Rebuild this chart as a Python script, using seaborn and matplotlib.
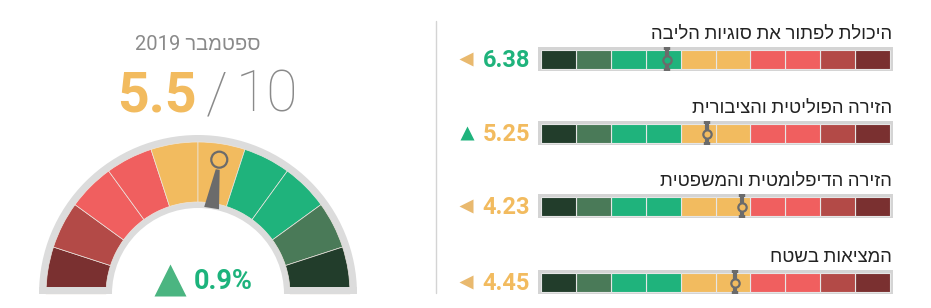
import numpy as np
import matplotlib
matplotlib.use("Agg")
import matplotlib.pyplot as plt
import seaborn as sns
from matplotlib.patches import Wedge, Polygon, Circle, Rectangle

# ---------------- data ----------------
segment_colors = ['#7a3030', '#b34a47', '#f05f5f', '#f05f5f', '#f2bb5f',
                  '#f2bb5f', '#1fb37c', '#1fb37c', '#4a7a58', '#223d2b']
scale_max = 10
gauge_value = 5.5
gauge_change = "0.9%"
gauge_trend = "up"
period_label = "ספטמבר 2019"
row_titles = ["היכולת לפתור את סוגיות הליבה",
              "הזירה הפוליטית והציבורית",
              "הזירה הדיפלומטית והמשפטית",
              "המציאות בשטח"]
row_values = [6.38, 5.25, 4.23, 4.45]
row_trends = ["flat", "up", "flat", "flat"]

# ---------------- setup ----------------
sns.set_theme(style="white")
plt.rcParams["font.family"] = ["Roboto", "Liberation Sans", "DejaVu Sans"]

W, H = 931, 308
fig = plt.figure(figsize=(W / 100, H / 100), dpi=100)
fig.patch.set_facecolor("white")


def visual(s):
    """simple bidi: reverse word order, reverse letters of Hebrew words"""
    words = s.split(" ")
    out = []
    for w in reversed(words):
        if any('\u0590' <= ch <= '\u05ff' for ch in w):
            out.append(w[::-1])
        else:
            out.append(w)
    return " ".join(out)


def rect(x0, y0, x1, y1):
    return [x0 / W, 1 - y1 / H, (x1 - x0) / W, (y1 - y0) / H]


def ftext(x, y, s, **kw):
    fig.text(x / W, 1 - y / H, s, **kw)


def seg_color(v):
    return segment_colors[min(int(v), scale_max - 1)]


GREY_NEEDLE = "#6b6b6b"

# overlay axes in pixel coordinates for decorations
ov = fig.add_axes([0, 0, 1, 1])
ov.set_xlim(0, W)
ov.set_ylim(H, 0)
ov.axis("off")
ov.patch.set_alpha(0)
ov.plot([436, 436], [21, 293], color="#d4d4d4", lw=1)

# ---------------- gauge ----------------
ga = fig.add_axes(rect(28, 130, 368, 300))
ga.set_xlim(-170, 170)
ga.set_ylim(-6, 164)
ga.set_aspect("equal")
ga.axis("off")
R_OUT, R_IN = 159, 86
C_OUT, C_IN = 152, 92
ga.add_patch(Wedge((0, 0), R_OUT, 0, 180, width=R_OUT - R_IN, fc="#dcdcdc", ec="none"))
step = 180 / scale_max
for i, c in enumerate(segment_colors):
    ga.add_patch(Wedge((0, 0), C_OUT, 180 - step * (i + 1), 180 - step * i,
                       width=C_OUT - C_IN, fc=c, ec="#ece6e0", lw=0.5))
ga.add_patch(Rectangle((-R_OUT, 0), R_OUT - R_IN, 7, fc="#dcdcdc", ec="none"))
ga.add_patch(Rectangle((R_IN, 0), R_OUT - R_IN, 7, fc="#dcdcdc", ec="none"))

th = np.deg2rad(180 - gauge_value / scale_max * 180)
u = np.array([np.cos(th), np.sin(th)])
n = np.array([-np.sin(th), np.cos(th)])
r0, r1, rc = 87, 126, 136
needle = [r0 * u + 7.5 * n, r1 * u + 2 * n, r1 * u - 2 * n, r0 * u - 7.5 * n]
ga.add_patch(Polygon(needle, closed=True, fc=GREY_NEEDLE, ec="none"))
ga.add_patch(Circle(rc * u, 8, fc=seg_color(gauge_value), ec=GREY_NEEDLE, lw=1.6))

# gauge texts
ftext(198, 50, visual(period_label), ha="center", va="baseline",
      fontsize=14.5, color="#8a8a8a")
ftext(197, 112, f"{gauge_value}", ha="right", va="baseline", fontsize=40,
      fontweight="bold", color=seg_color(gauge_value))
ftext(206, 112, "/", ha="left", va="baseline", fontsize=41,
      fontweight="light", color="#8a8a8a")
ftext(298, 112, f"{scale_max}", ha="right", va="baseline", fontsize=41,
      fontweight="light", color="#8a8a8a")
ftext(194, 289, gauge_change, ha="left", va="baseline", fontsize=19.5,
      fontweight="bold", color="#1db37c")
ov.plot([170], [279.5], marker="^" if gauge_trend == "up" else "<",
        markersize=23, color="#4bb581", mec="none")

# ---------------- rows ----------------
row_tops = [47, 121, 194, 270]
BAR_X0, BAR_X1 = 538, 893
pad_px = 3
unit = scale_max / (BAR_X1 - BAR_X0 - 2 * pad_px)
for k, (title, val, trend) in enumerate(zip(row_titles, row_values, row_trends)):
    top = row_tops[k]
    ax = fig.add_axes(rect(BAR_X0, top, BAR_X1, top + 24))
    ax.set_facecolor("#d4d4d4")
    ax.set_xlim(scale_max + pad_px * unit, -pad_px * unit)
    ax.set_ylim(0, 1)
    for i, c in enumerate(segment_colors):
        ax.barh(0.47, 1, left=i, height=0.8, color=c, edgecolor="#e6e6e6",
                linewidth=0.8)
    ax.plot([val, val], [0, 1], color=GREY_NEEDLE, lw=3.0, solid_capstyle="butt")
    ax.plot([val, val], [0, 0.12], color=GREY_NEEDLE, lw=4.6, solid_capstyle="butt")
    ax.plot([val, val], [0.88, 1], color=GREY_NEEDLE, lw=4.6, solid_capstyle="butt")
    sns.scatterplot(x=[val], y=[0.47], ax=ax, s=36, color=seg_color(val),
                    edgecolor=GREY_NEEDLE, linewidth=1.6, zorder=5, legend=False)
    ax.set_xticks([])
    ax.set_yticks([])
    for sp in ax.spines.values():
        sp.set_visible(False)

    ftext(892, top - 8, visual(title), ha="right", va="baseline",
          fontsize=13.3, color="#222222")
    ftext(530, top + 20, f"{val:.2f}", ha="right", va="baseline",
          fontsize=17, fontweight="bold", color=seg_color(val))
    if trend == "up":
        ov.plot([466.5], [top + 12], marker="^", markersize=9.5,
                color="#1fb37c", mec="none")
    else:
        ov.plot([466], [top + 11.5], marker="<", markersize=10.5,
                color="#e9b96e", mec="none")

fig.savefig("out.png", dpi=100, facecolor="white")
